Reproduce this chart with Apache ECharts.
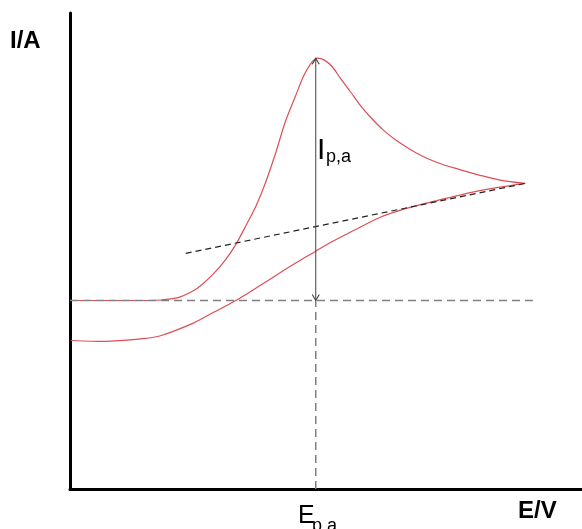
<!DOCTYPE html>
<html>
<head>
<meta charset="utf-8">
<script src="https://cdn.jsdelivr.net/npm/echarts@6/dist/echarts.min.js"></script>
<style>html,body{margin:0;padding:0;background:#fff;}#c{width:582px;height:529px;}</style>
</head>
<body>
<div id="c"></div>
<script>
// Anodic (forward) scan: [E, I] in arbitrary units
const forwardScan = [[0,39.6],[15.8,39.6],[17.7,39.7],[21.1,40.2],[24.2,41.7],[25.5,42.7],[28.1,45.3],[30.4,48.2],[32.4,51.4],[34.3,55.2],[36.3,59.4],[38.2,64.4],[40.2,70.7],[42.1,77.3],[44.1,82.7],[45.6,86.7],[47.0,89.3],[48.3,90.5],[49.7,90.1],[51.3,88.6],[52.8,86.3],[54.8,83.4],[56.7,80.6],[58.7,78.1],[61.2,75.4],[63.9,73.1],[67.8,70.5],[71.7,68.6],[75.8,67.2],[80.1,65.9],[84.0,64.9],[88.9,64.2]];
// Reverse scan
const reverseScan = [[0.2,31.2],[6.6,31.0],[14.4,31.6],[17.7,32.2],[24.2,34.9],[27.5,36.8],[32.4,39.6],[37.2,42.8],[41.7,45.9],[44.4,47.7],[47.6,49.7],[50.9,51.8],[55.4,54.3],[60.6,57.1],[65.9,59.0],[71.7,60.6],[80.1,62.7],[88.9,64.2]];
// Baseline current, peak potential, peak current, extrapolated baseline
const baselineI = 39.6;
const baselineEnd = 90.4;
const peakE = 48.0;
const peakI = 90.5;
const tangentLine = [[22.6,49.5],[88.9,64.2]];
// Labels
const yLabel = 'I/A';
const xLabel = 'E/V';
const peakCurrentLabel = ['I', 'p,a'];
const peakPotentialLabel = ['E', 'p,a'];

const chart = echarts.init(document.getElementById('c'), null, {renderer: 'canvas'});
const chevron = 'path://M0,6 L4,0 L8,6';
const option = {
  animation: false,
  backgroundColor: '#fff',
  grid: {left: 70, right: 0, top: 13, bottom: 40},
  xAxis: {type: 'value', min: 0, max: 100,
    axisLine: {show: true, lineStyle: {color: '#000', width: 3}},
    axisTick: {show: false}, axisLabel: {show: false}, splitLine: {show: false}},
  yAxis: {type: 'value', min: 0, max: 100,
    axisLine: {show: true, lineStyle: {color: '#000', width: 3}},
    axisTick: {show: false}, axisLabel: {show: false}, splitLine: {show: false}},
  series: [
    {type: 'line', data: forwardScan, smooth: 0.3, showSymbol: false, z: 2,
      lineStyle: {color: '#dc4f55', width: 1.2}},
    {type: 'line', data: reverseScan, smooth: 0.3, showSymbol: false, z: 2,
      lineStyle: {color: '#dc4f55', width: 1.2}},
    {type: 'line', data: [[0, baselineI], [baselineEnd, baselineI]], showSymbol: false, z: 3,
      lineStyle: {color: '#808080', width: 1.5, type: [8, 5]}},
    {type: 'line', data: [[peakE, 0], [peakE, baselineI]], showSymbol: false, z: 3,
      lineStyle: {color: '#808080', width: 1.5, type: [8, 5]}},
    {type: 'line', data: tangentLine, showSymbol: false, z: 3,
      lineStyle: {color: '#222', width: 1.2, type: [6, 4]}},
    {type: 'line', z: 4, showSymbol: true,
      lineStyle: {color: '#404040', width: 1},
      itemStyle: {color: 'transparent', borderColor: '#404040', borderWidth: 1},
      data: [
        {value: [peakE, baselineI], symbol: chevron, symbolSize: [7, 6], symbolRotate: 180, symbolOffset: [0, -3]},
        {value: [peakE, peakI], symbol: chevron, symbolSize: [7, 6], symbolRotate: 0, symbolOffset: [0, 3]}
      ]}
  ],
  graphic: [
    {type: 'text', x: 10, y: 41.5, style: {text: yLabel, font: 'bold 24px "Liberation Sans", Arial, sans-serif', fill: '#000', verticalAlign: 'middle'}},
    {type: 'text', x: 518, y: 511.5, style: {text: xLabel, font: 'bold 24px "Liberation Sans", Arial, sans-serif', fill: '#000', verticalAlign: 'middle'}},
    {type: 'text', x: 317, y: 151, style: {text: peakCurrentLabel[0], font: '30px "Liberation Sans", Arial, sans-serif', fill: '#000', verticalAlign: 'middle'}},
    {type: 'text', x: 326, y: 157, style: {text: peakCurrentLabel[1], font: '18px "Liberation Sans", Arial, sans-serif', fill: '#000', verticalAlign: 'middle'}},
    {type: 'text', x: 298, y: 516, style: {text: peakPotentialLabel[0], font: '25px "Liberation Sans", Arial, sans-serif', fill: '#000', verticalAlign: 'middle'}},
    {type: 'text', x: 312, y: 526, style: {text: peakPotentialLabel[1], font: '18px "Liberation Sans", Arial, sans-serif', fill: '#000', verticalAlign: 'middle'}}
  ]
};
chart.setOption(option);
</script>
</body>
</html>
